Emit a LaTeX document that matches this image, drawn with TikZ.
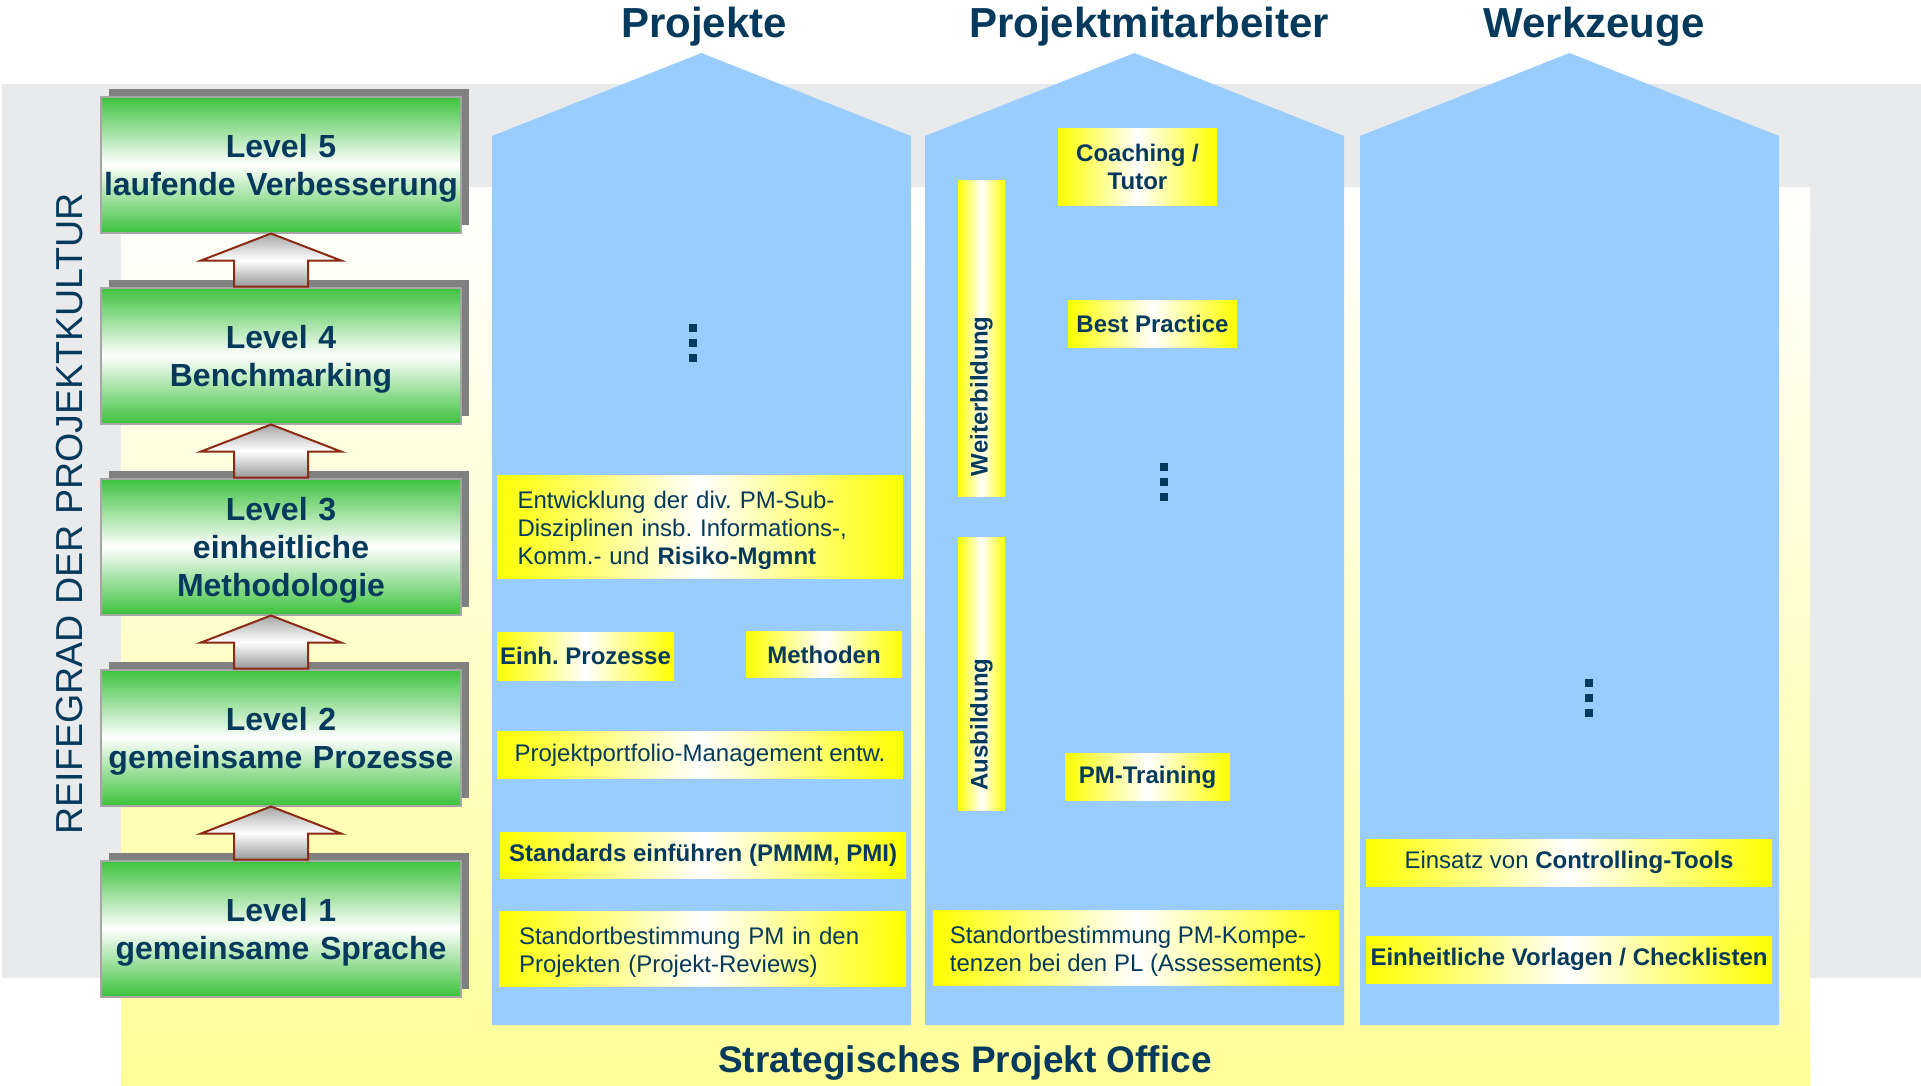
\documentclass[tikz,border=0pt]{standalone}
\usepackage{fontspec}
\setmainfont{Liberation Sans}
\usetikzlibrary{shapes,arrows.meta,positioning,shadows}
\frenchspacing

\definecolor{txtblue}{HTML}{053A5C}
\definecolor{housebl}{HTML}{99CCFF}
\definecolor{bandgr}{HTML}{E9EAEC}
\definecolor{bgylw}{HTML}{FFFF99}
\definecolor{lvlgreen}{HTML}{3CC23C}
\definecolor{arrred}{HTML}{8C2A14}

% a little room above the first line of a box
\newcommand{\topgap}{\rule{0pt}{24pt}}

\begin{document}
\begin{tikzpicture}[x=1pt, y=-1pt,
		lvl/.style={draw=black!35, line width=2pt, top color=lvlgreen, bottom color=lvlgreen, middle color=white,
			minimum width=360pt, minimum height=136pt, inner sep=0pt, text width=360pt, align=center, text=txtblue,
			font=\fontsize{32}{38}\selectfont\bfseries, execute at begin node={\rule{0pt}{31pt}},
			drop shadow={shadow xshift=8pt, shadow yshift=8pt, opacity=1, fill=black!50}},
		lvlarrow/.style={draw=arrred, line width=2pt, top color=black!35, bottom color=black!40, middle color=white},
		ybox/.style={left color=yellow, right color=yellow, middle color=white, inner sep=0pt, text=txtblue,
			font=\fontsize{24}{28}\selectfont},
		ybold/.style={ybox, font=\fontsize{24}{28}\selectfont\bfseries},
		sz/.style 2 args={minimum width=#1pt, minimum height=#2pt},
		head/.style={anchor=base, inner sep=0pt, text=txtblue, font=\fontsize{42}{50}\selectfont\bfseries}
	]
		\useasboundingbox (0,0) rectangle (1921,1085);

		% background
		\fill[bandgr] (2,84) rectangle (1921,978);
		\fill[top color=white, bottom color=bgylw] (121,187) rectangle (1810,1085);
		\foreach \hx in {492,925,1360}
			\fill[housebl] (\hx,1025) -- (\hx,136) -- (\hx+209.5,53) -- (\hx+419,136) -- (\hx+419,1025) -- cycle;

		\node[head] (t proj) at (704,37) {Projekte};
		\node[head] (t ma) at (1149,37) {Projektmitarbeiter};
		\node[head] (t wz) at (1594,37) {Werkzeuge};
		\node[head, font=\fontsize{37}{44}\selectfont\bfseries] (spo) at (965,1072) {Strategisches Projekt Office};

		\node[rotate=90, anchor=base, inner sep=0pt, text=txtblue, font=\fontsize{37.6}{44}\selectfont] (reife) at (82,514) {REIFEGRAD DER PROJEKTKULTUR};

		% levels
		\node[lvl] (l1) at (281,928.5) {Level 1\\gemeinsame Sprache};
		\node[lvl, above=53pt of l1] (l2) {Level 2\\gemeinsame Prozesse};
		\node[lvl, above=53pt of l2] (l3) {Level 3\\einheitliche\\Methodologie};
		\node[lvl, above=53pt of l3] (l4) {Level 4\\Benchmarking};
		\node[lvl, above=53pt of l4] (l5) {Level 5\\laufende Verbesserung};

		\foreach \lo/\hi in {l1/l2,l2/l3,l3/l4,l4/l5}
			\draw[lvlarrow] ([xshift=-47pt]\lo.north) -- ++(0pt,26pt) -- ++(-33pt,0pt) -- ([xshift=-10pt]\hi.south)
				-- ++(70pt,-27pt) -- ++(-33pt,0pt) -- ([xshift=27pt]\lo.north) -- cycle;

		% Projekte
		\node[ybox, sz={406}{103}, text width=365pt, align=left] (entw) at (700,527)
			{\topgap Entwicklung der div. PM-Sub-\\Disziplinen insb. Informations-,\\Komm.- und \textbf{Risiko-Mgmnt}};
		\node[ybold, sz={177}{48}] (einh) at (585.5,656) {Einh. Prozesse};
		\node[ybold, sz={156}{46}] (meth) at (824,654.5) {Methoden};
		\node[ybox, sz={406}{47}] (port) at (700,755) {Projektportfolio-Management entw.};
		\node[ybold, sz={406}{46}] (stds) at (703,855.5) {Standards einführen (PMMM, PMI)};
		\node[ybox, sz={407}{75}, text width=367pt, align=left] (sbpm) at (702.5,948.5)
			{\topgap Standortbestimmung PM in den\\Projekten (Projekt-Reviews)};

		% Projektmitarbeiter
		\node[ybold, sz={159}{77}, align=center] (coach) at (1137.5,166.5) {Coaching /\\Tutor};
		\node[ybold, sz={169}{47}] (best) at (1152.5,323.5) {Best Practice};
		\node[ybold, sz={165}{47}] (pmtr) at (1147.5,777) {PM-Training};
		\node[ybold, rotate=90, sz={316}{47}, text width=276pt, align=left] (wbar) at (981.5,338) {Weiterbildung};
		\node[ybold, rotate=90, sz={273}{47}, text width=233pt, align=left] (abar) at (981.5,674) {Ausbildung};
		\node[ybox, sz={406}{75}, align=left] (kompe) at (1136,948)
			{\topgap Standortbestimmung PM-Kompe-\\tenzen bei den PL (Assessements)};

		% Werkzeuge
		\node[ybox, sz={406}{47}] (ctrl) at (1569,862.5) {Einsatz von \textbf{Controlling-Tools}};
		\node[ybold, sz={406}{47}] (vorl) at (1569,959.5) {Einheitliche Vorlagen / Checklisten};

		\foreach \dx/\dy in {689/324,1160/463,1585/679}
			\foreach \k in {0,1,2}
				\fill[txtblue] (\dx,\dy+15*\k) rectangle ++(8,8);
	\end{tikzpicture}
\end{document}
